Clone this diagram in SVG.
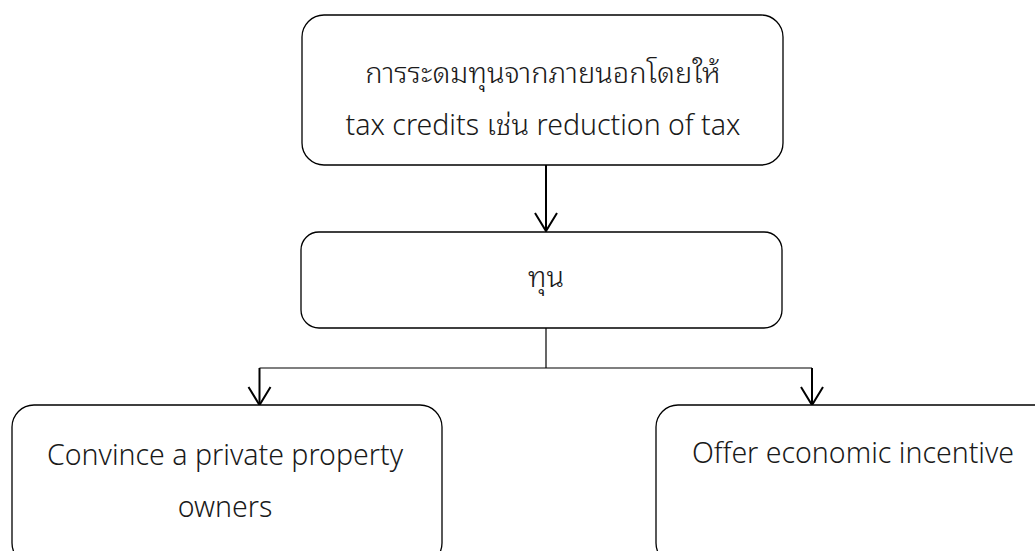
<svg xmlns="http://www.w3.org/2000/svg" width="1035" height="551" viewBox="0 0 1035 551">
<style>
.box{fill:#fff;stroke:#000;stroke-width:1.3}
.t{font-family:"Noto Sans","Open Sans",sans-serif;font-size:28.5px;font-weight:300;fill:#1a1a1a;text-anchor:middle}
.th{font-family:"Noto Sans Thai Looped","Noto Sans Thai",sans-serif;font-size:29px;font-weight:300}
.thi{font-family:"Noto Sans Thai Looped","Noto Sans Thai",sans-serif;font-weight:300;font-size:29px}
.ln{fill:none;stroke:#000;stroke-width:1.2}
.ar{fill:none;stroke:#000;stroke-width:2}
</style>
<rect width="1035" height="551" fill="#fff"/>
<g id="connectors">
<line class="ar" x1="546" y1="165" x2="546" y2="231"/>
<path d="M1,1 L12,19 L23,1" transform="translate(534,212)" class="ar"/>
<line class="ln" x1="546" y1="328" x2="546" y2="368"/>
<line class="ln" x1="259.5" y1="368" x2="812" y2="368"/>
<line class="ar" x1="259.5" y1="368" x2="259.5" y2="404"/>
<path d="M1,1 L12,19 L23,1" transform="translate(247.5,386)" class="ar"/>
<line class="ar" x1="812" y1="368" x2="812" y2="404"/>
<path d="M1,1 L12,19 L23,1" transform="translate(800,386)" class="ar"/>
</g>
<g id="node-top">
<rect class="box" x="302" y="15" width="481" height="150" rx="22"/>
<text class="t th" x="543" y="83">การระดมทุนจากภายนอกโดยให้</text>
<text class="t" x="543" y="135">tax credits <tspan class="thi">เช่น</tspan> reduction of tax</text>
</g>
<g id="node-capital">
<rect class="box" x="301" y="232" width="481" height="96" rx="18"/>
<text class="t th" x="546" y="287">ทุน</text>
</g>
<g id="node-convince">
<rect class="box" x="12" y="405" width="430" height="160" rx="22"/>
<text class="t" x="225" y="465">Convince a private property</text>
<text class="t" x="225" y="517">owners</text>
</g>
<g id="node-offer">
<rect class="box" x="656" y="405" width="400" height="160" rx="22"/>
<text class="t" x="853" y="463">Offer economic incentive</text>
</g>
</svg>
